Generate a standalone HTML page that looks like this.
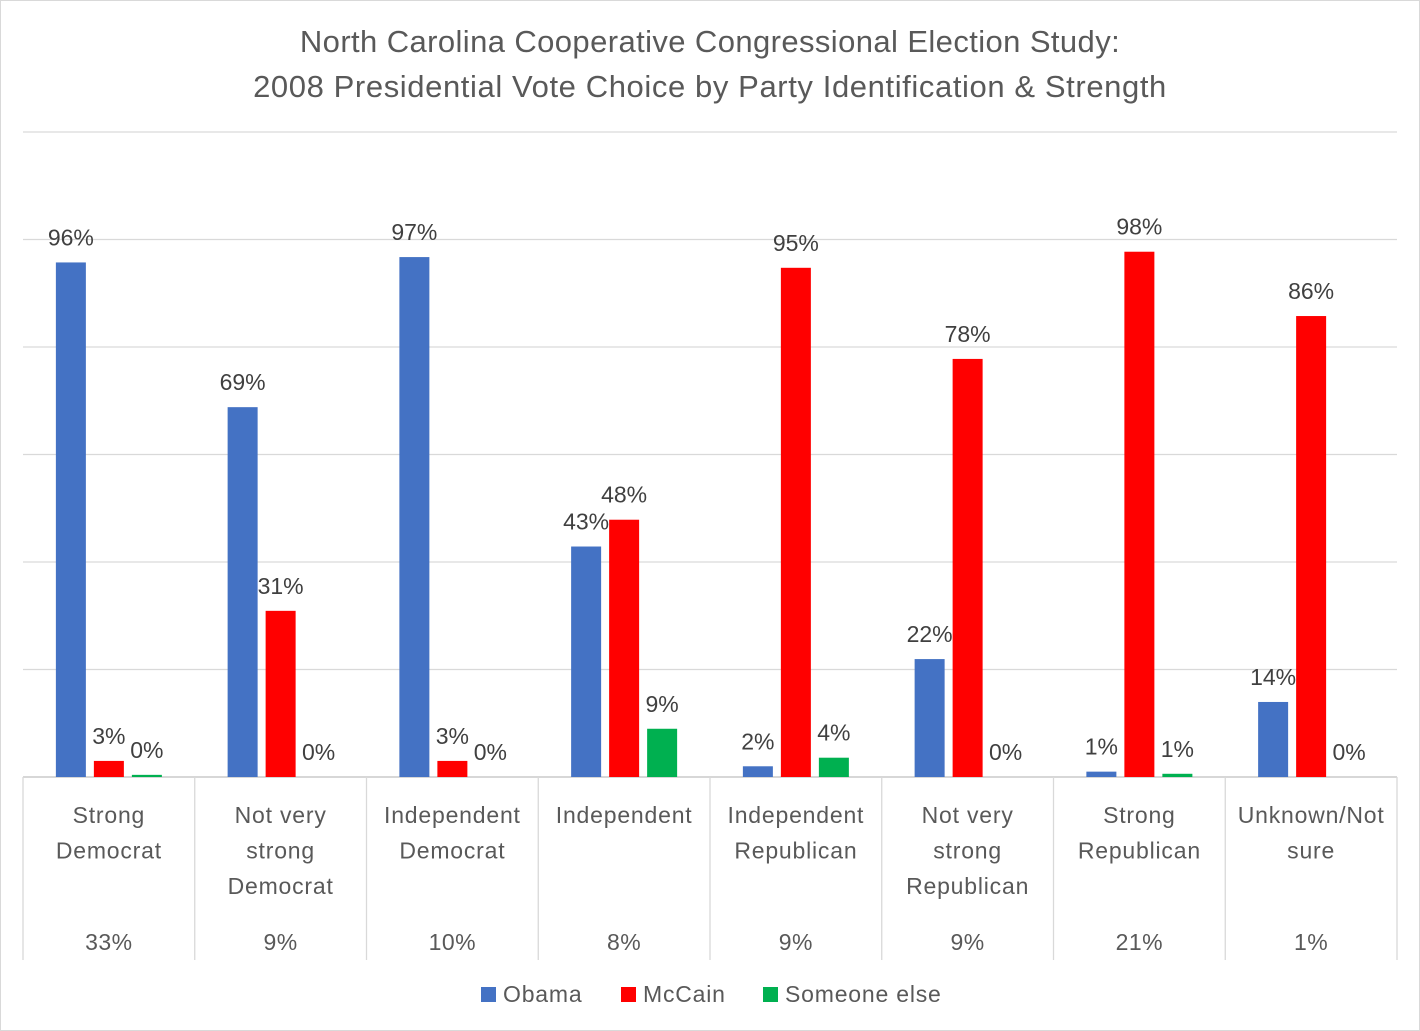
<!DOCTYPE html>
<html><head><meta charset="utf-8"><style>
html,body{margin:0;padding:0;background:#fff;}
svg{display:block;font-family:"Liberation Sans",Calibri,sans-serif;}
</style></head><body>
<svg id="chart" width="1420" height="1031" viewBox="0 0 1420 1031">
<rect x="0.5" y="0.5" width="1419" height="1030" fill="#fff" stroke="#d9d9d9"/>
<text x="710" y="52" text-anchor="middle" font-size="31" fill="#595959" letter-spacing="0.4">North Carolina Cooperative Congressional Election Study:</text>
<text x="710" y="97" text-anchor="middle" font-size="31" fill="#595959" letter-spacing="0.6">2008 Presidential Vote Choice by Party Identification &amp; Strength</text>
<g id="grid"></g><g id="bars"></g><g id="axis"></g><g id="legend"></g>
</svg>
<script>
const categories=[["Strong","Democrat"],["Not very","strong","Democrat"],["Independent","Democrat"],["Independent"],["Independent","Republican"],["Not very","strong","Republican"],["Strong","Republican"],["Unknown/Not","sure"]];
const shares=["33%","9%","10%","8%","9%","9%","21%","1%"];
const obama=[96,69,97,43,2,22,1,14];
const mccain=[3,31,3,48,95,78,98,86];
const someone=[0.4,0,0,9,3.6,0,0.6,0];
const seriesNames=["Obama","McCain","Someone else"];
const colors=["#4472c4","#ff0000","#00b050"];
const gridTicks=[0,20,40,60,80,100,120];

const NS="http://www.w3.org/2000/svg";
const x0=23,x1=1397,base=777,pxPer=536/100,gridStep=645/120;
const gw=(x1-x0)/categories.length;
const y=v=>base-v*pxPer;
const gy=v=>base-v*gridStep;
function mk(t,a,p){const e=document.createElementNS(NS,t);for(const k in a)e.setAttribute(k,a[k]);p.appendChild(e);return e;}
const grid=document.getElementById('grid'),bars=document.getElementById('bars'),axis=document.getElementById('axis'),leg=document.getElementById('legend');
gridTicks.forEach(t=>{const l=mk('line',{x1:x0,x2:x1,y1:gy(t),y2:gy(t),stroke:t===0?'#bfbfbf':'#d9d9d9','stroke-width':1.3},grid);

});
const series=[obama,mccain,someone];
categories.forEach((c,i)=>{
  const cx=x0+gw*(i+0.5);
  series.forEach((s,j)=>{
    const bx=cx-53+j*38,v=s[i];
    const r=mk('rect',{x:bx,y:y(v),width:30,height:v*pxPer,fill:colors[j]},bars);
    
    
    const t=mk('text',{x:bx+15,y:y(v)-17,'text-anchor':'middle','font-size':23,fill:'#404040'},bars);
    t.textContent=Math.round(v)+'%';
    
    
  });
  c.forEach((ln,k)=>{const t=mk('text',{x:cx,y:823+k*35.5,'text-anchor':'middle','font-size':23,fill:'#595959','letter-spacing':0.8},axis);t.textContent=ln;
    
    });
  const s=mk('text',{x:cx,y:950,'text-anchor':'middle','font-size':23,fill:'#595959','letter-spacing':0.5},axis);s.textContent=shares[i];
  
  
});
for(let i=0;i<=categories.length;i++){const xx=x0+gw*i;const l=mk('line',{x1:xx,x2:xx,y1:base,y2:960,stroke:'#d9d9d9','stroke-width':1.3},axis);
  
  }
const lx=[481,621,763];
seriesNames.forEach((n,j)=>{
  const g=mk('g',{},leg);
  
  
  mk('rect',{x:lx[j],y:987,width:15,height:15,fill:colors[j]},g);
  const t=mk('text',{x:lx[j]+22,y:1002,'font-size':23,fill:'#595959','letter-spacing':0.8},g);t.textContent=n;
});
</script>
</body></html>
